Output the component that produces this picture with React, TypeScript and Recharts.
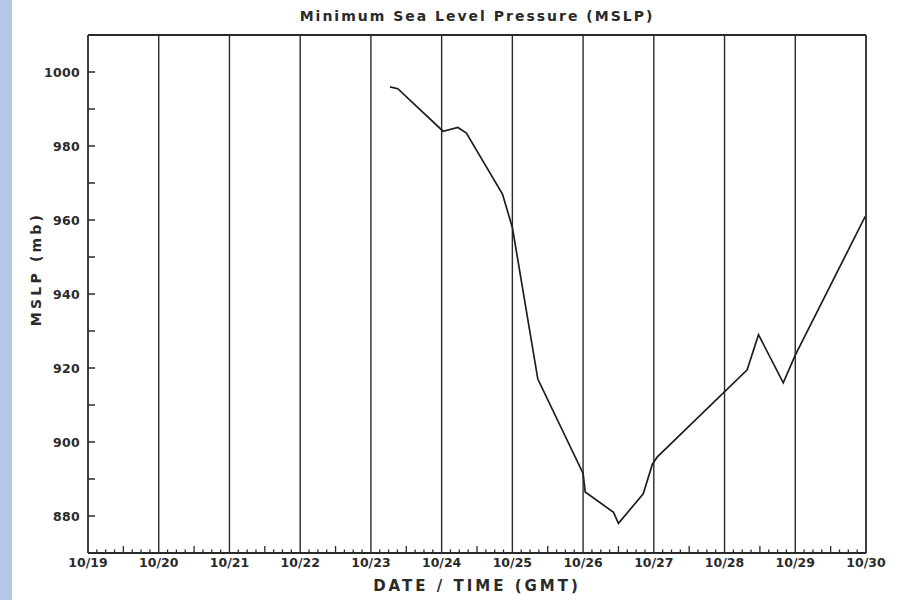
import { LineChart, Line, XAxis, YAxis, ReferenceLine } from "recharts";

// time in days since 10/19 00 GMT, and minimum sea level pressure (mb)
const timeDays = [4.27, 4.38, 5.02, 5.23, 5.35, 5.86, 6.0, 6.36, 7.0, 7.03, 7.43, 7.5, 7.85, 7.98, 8.05, 9.32, 9.48, 9.83, 10.0, 10.99];
const mslp = [996, 995.5, 984, 985, 983.5, 967, 958, 917, 891.5, 886.5, 881, 878, 886, 894, 896, 919.5, 929, 916, 923.5, 961];

const dayTicks = [0, 1, 2, 3, 4, 5, 6, 7, 8, 9, 10, 11];
const dayLabels = ["10/19", "10/20", "10/21", "10/22", "10/23", "10/24", "10/25", "10/26", "10/27", "10/28", "10/29", "10/30"];
const yTicks = [880, 890, 900, 910, 920, 930, 940, 950, 960, 970, 980, 990, 1000];
const yLabelled = [880, 900, 920, 940, 960, 980, 1000];

const SUBDIV = 8; // 3-hourly minor ticks
const minorTicks = dayTicks.slice(0, -1).flatMap((d) =>
  Array.from({ length: SUBDIV }, (_, k) => d + k / SUBDIV)
).concat([11]);

const data = timeDays.map((t, i) => ({ t, p: mslp[i] }));

const INK = "#2a2a2a";
const FONT = "'DejaVu Sans', sans-serif";

function XTick(props: any) {
  const { x, y, payload } = props;
  const v = payload.value as number;
  const axisY = y - 4;
  const idx = dayTicks.indexOf(v);
  const frac = v - Math.floor(v);
  const len = idx >= 0 ? 0 : Math.abs(frac - 0.5) < 1e-6 ? 7 : 3.5;
  return (
    <g>
      {len > 0 && <line x1={x} x2={x} y1={axisY} y2={axisY - len} stroke={INK} strokeWidth={1.3} />}
      {idx >= 0 && (
        <text x={x} y={y} dy={10} textAnchor="middle" fontSize={12.5} fontWeight="bold"
          fontFamily={FONT} fill={INK} letterSpacing={0}>
          {dayLabels[idx]}
        </text>
      )}
    </g>
  );
}

function YTick(props: any) {
  const { x, y, payload } = props;
  const v = payload.value as number;
  const axisX = x + 8;
  const labelled = yLabelled.includes(v);
  return (
    <g>
      <line x1={axisX} x2={axisX + 7} y1={y} y2={y} stroke={INK} strokeWidth={1.5} />
      {labelled && (
        <text x={x} y={y} dy={4.5} textAnchor="end" fontSize={12.5} fontWeight="bold"
          fontFamily={FONT} fill={INK} letterSpacing={0.3}>
          {v}
        </text>
      )}
    </g>
  );
}

export default function App() {
  return (
    <div style={{ position: "absolute", left: 0, top: 0, width: 901, height: 600, background: "#fff", overflow: "hidden" }}>
      <div style={{ position: "absolute", left: 0, top: 0, width: 12, height: 600, background: "#b5c7e8" }} />
      <div style={{
        position: "absolute", left: 88, width: 778, top: 8, textAlign: "center",
        fontFamily: FONT, fontWeight: "bold", fontSize: 14, letterSpacing: 2, color: INK,
      }}>
        Minimum Sea Level Pressure (MSLP)
      </div>
      <div style={{
        position: "absolute", left: 88, width: 778, top: 577, textAlign: "center",
        fontFamily: FONT, fontWeight: "bold", fontSize: 15, letterSpacing: 3, color: INK,
      }}>
        DATE / TIME (GMT)
      </div>
      <div style={{
        position: "absolute", left: 36, top: 270, width: 0, height: 0,
      }}>
        <div style={{
          position: "absolute", left: -80, top: -9, width: 160, textAlign: "center",
          transform: "rotate(-90deg)", fontFamily: FONT, fontWeight: "bold", fontSize: 14,
          letterSpacing: 3.2, color: INK, whiteSpace: "nowrap",
        }}>
          MSLP (mb)
        </div>
      </div>
      <div style={{ position: "absolute", left: 0, top: 0 }}>
        <LineChart width={901} height={600} data={data} margin={{ top: 35, right: 35, bottom: 27, left: 28 }}>
          <XAxis
            dataKey="t"
            type="number"
            domain={[0, 11]}
            ticks={minorTicks}
            interval={0}
            tickSize={0}
            tickMargin={4}
            tickLine={false}
            height={20}
            axisLine={{ stroke: INK, strokeWidth: 1.8 }}
            tick={(p: any) => <XTick {...p} />}
            allowDataOverflow
          />
          <YAxis
            type="number"
            domain={[870, 1010]}
            ticks={yTicks}
            interval={0}
            tickSize={0}
            tickMargin={8}
            tickLine={false}
            width={60}
            axisLine={{ stroke: INK, strokeWidth: 1.8 }}
            tick={(p: any) => <YTick {...p} />}
            allowDataOverflow
          />
          {dayTicks.slice(1).map((d) => (
            <ReferenceLine key={d} x={d} stroke={INK} strokeWidth={d === 11 ? 1.8 : 1.4} ifOverflow="extendDomain" />
          ))}
          <ReferenceLine y={1010} stroke={INK} strokeWidth={1.8} />
          <Line
            type="linear"
            dataKey="p"
            stroke="#1e1e1e"
            strokeWidth={1.7}
            dot={false}
            isAnimationActive={false}
          />
        </LineChart>
      </div>
    </div>
  );
}
